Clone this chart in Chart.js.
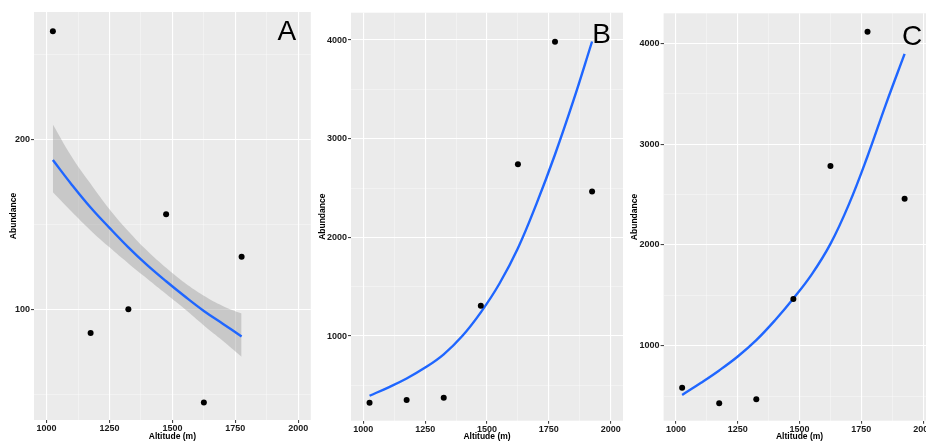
<!DOCTYPE html>
<html>
<head>
<meta charset="utf-8">
<script src="https://cdn.jsdelivr.net/npm/chart.js@4.4.1/dist/chart.umd.min.js"></script>
<style>
  html, body { margin: 0; padding: 0; background: #fff; overflow: hidden; }
  #wrap { position: relative; width: 926px; height: 446px; overflow: hidden; }
  canvas { position: absolute; top: 0; }
</style>
</head>
<body>
<div id="wrap">
  <canvas id="panelA" width="316" height="446" style="left:0px"></canvas>
  <canvas id="panelB" width="312" height="446" style="left:316px"></canvas>
  <canvas id="panelC" width="318" height="446" style="left:628px"></canvas>
</div>
<script>
// observed points
var altitude = [1025, 1175, 1325, 1475, 1625, 1775, 1925]
var abundanceA = [264, 86, 100, 156, 45, 131]
var abundanceB = [324, 352, 375, 1307, 2742, 3983, 2466]
var abundanceC = [583, 429, 468, 1463, 2784, 4115, 2459]

// fitted curves
var fitAltA = [1025, 1100, 1175, 1250, 1325, 1400, 1475, 1550, 1625, 1700, 1775]
var fitA = [188, 173.5, 160, 148, 136.5, 126, 116.5, 107.5, 99, 91.5, 84]
var upperA = [209, 190, 174, 159, 146, 134.5, 124.5, 115.5, 108, 102, 97.5]
var lowerA = [169, 157.5, 146.5, 136.5, 127, 118, 109, 100, 90.5, 81.5, 72]

var fitAltBC = [1025, 1100, 1175, 1250, 1325, 1400, 1475, 1550, 1625, 1700, 1775, 1850, 1925]
var fitB = [395, 478, 570, 680, 815, 1000, 1240, 1530, 1890, 2340, 2840, 3390, 3985]
var fitC = [511, 630, 755, 893, 1055, 1250, 1468, 1710, 2010, 2405, 2880, 3400, 3895]

// axis ticks
var xMajor = [1000, 1250, 1500, 1750, 2000]
var xMinor = [1125, 1375, 1625, 1875]
var yMajorA = [100, 200]
var yMinorA = [50, 150, 250]
var yMajorBC = [1000, 2000, 3000, 4000]
var yMinorBC = [500, 1500, 2500, 3500]

var FONT = "'Liberation Sans', Arial, sans-serif"

function pairs(xs, ys) {
    return ys.map(function (y, i) { return { x: xs[i], y: y } })
}

var panelBg = {
    id: 'panelBg',
    beforeDraw: function (chart) {
        var a = chart.chartArea, ctx = chart.ctx
        ctx.save()
        ctx.fillStyle = '#ebebeb'
        ctx.fillRect(a.left, a.top, a.right - a.left, a.bottom - a.top)
        ctx.restore()
    },
    afterDraw: function (chart, args, opts) {
        var a = chart.chartArea, ctx = chart.ctx
        ctx.save()
        ctx.fillStyle = '#000'
        ctx.font = '28px ' + FONT
        ctx.textAlign = 'center'
        ctx.textBaseline = 'alphabetic'
        ctx.fillText(opts.letter, a.right - opts.dx, a.top + opts.dy)
        ctx.restore()
    }
}

function axis(major, minor, min, max, title, size, titlePad, horizontal) {
    var all = major.concat(minor).sort(function (a, b) { return a - b })
    var isMajor = function (ctx) { return ctx.tick && major.indexOf(ctx.tick.value) >= 0 }
    return {
        type: 'linear',
        position: horizontal ? 'bottom' : 'left',
        min: min,
        max: max,
        afterBuildTicks: function (scale) {
            scale.ticks = all.map(function (v) { return { value: v } })
        },
        afterFit: function (scale) {
            if (horizontal) scale.height = size
            else scale.width = size
        },
        border: { display: false },
        grid: {
            color: function (ctx) { return isMajor(ctx) ? '#ffffff' : 'rgba(255,255,255,0.6)' },
            lineWidth: function (ctx) { return isMajor(ctx) ? 1.1 : 0.6 },
            tickColor: function (ctx) { return isMajor(ctx) ? '#444' : 'rgba(0,0,0,0)' },
            tickLength: 3,
            drawTicks: true
        },
        ticks: {
            autoSkip: false,
            maxRotation: 0,
            padding: horizontal ? 0 : 1,
            color: '#1a1a1a',
            font: { family: FONT, size: 9, weight: 'bold' },
            callback: function (value) { return major.indexOf(value) >= 0 ? String(value) : '' }
        },
        title: {
            display: true,
            text: title,
            color: '#000',
            font: { family: FONT, size: 8.5, weight: 'bold' },
            padding: horizontal ? { top: 0, bottom: titlePad } : { top: titlePad, bottom: 0 }
        }
    }
}

function makePanel(id, cfg) {
    var datasets = [
        {
            data: cfg.points,
            showLine: false,
            pointRadius: 3,
            pointBackgroundColor: '#000',
            pointBorderWidth: 0
        },
        {
            data: cfg.fit,
            borderColor: '#1f66ff',
            borderWidth: 2.4,
            pointRadius: 0,
            tension: 0.4,
            fill: false
        }
    ]
    if (cfg.upper) {
        datasets.push({
            data: cfg.upper,
            borderWidth: 0,
            borderColor: 'rgba(0,0,0,0)',
            pointRadius: 0,
            tension: 0.4,
            fill: false
        })
        datasets.push({
            data: cfg.lower,
            borderWidth: 0,
            borderColor: 'rgba(0,0,0,0)',
            backgroundColor: 'rgba(153,153,153,0.42)',
            pointRadius: 0,
            tension: 0.4,
            fill: '-1'
        })
    }
    return new Chart(document.getElementById(id), {
        type: 'line',
        data: { datasets: datasets },
        options: {
            responsive: false,
            animation: false,
            devicePixelRatio: 1,
            layout: { padding: cfg.padding },
            scales: {
                x: axis(xMajor, xMinor, 950, 2050, 'Altitude (m)', cfg.xHeight, 4.2, true),
                y: axis(cfg.yMajor, cfg.yMinor, cfg.yMin, cfg.yMax, 'Abundance', cfg.yWidth, cfg.yTitlePad, false)
            },
            plugins: {
                legend: { display: false },
                tooltip: { enabled: false },
                panelBg: cfg.letter
            }
        },
        plugins: [panelBg]
    })
}

var chartA = makePanel('panelA', {
    points: pairs(altitude, abundanceA),
    fit: pairs(fitAltA, fitA),
    upper: pairs(fitAltA, upperA),
    lower: pairs(fitAltA, lowerA),
    yMajor: yMajorA, yMinor: yMinorA, yMin: 34.7, yMax: 275.3,
    yWidth: 34, yTitlePad: 8.9, xHeight: 26,
    padding: { top: 12, right: 5.2, left: 0, bottom: 0 },
    letter: { letter: 'A', dx: 24, dy: 28 }
})

var chartB = makePanel('panelB', {
    points: pairs(altitude, abundanceB),
    fit: pairs(fitAltBC, fitB),
    yMajor: yMajorBC, yMinor: yMinorBC, yMin: 142, yMax: 4277,
    yWidth: 35, yTitlePad: 1.2, xHeight: 25.3,
    padding: { top: 12.7, right: 5, left: 0, bottom: 0 },
    letter: { letter: 'B', dx: 21.5, dy: 30.6 }
})

var chartC = makePanel('panelC', {
    points: pairs(altitude, abundanceC),
    fit: pairs(fitAltBC, fitC),
    yMajor: yMajorBC, yMinor: yMinorBC, yMin: 256, yMax: 4298,
    yWidth: 35.6, yTitlePad: 1.9, xHeight: 25.3,
    padding: { top: 13.3, right: 10.5, left: 0, bottom: 0 },
    letter: { letter: 'C', dx: 23.5, dy: 31.7 }
})
</script>
</body>
</html>
